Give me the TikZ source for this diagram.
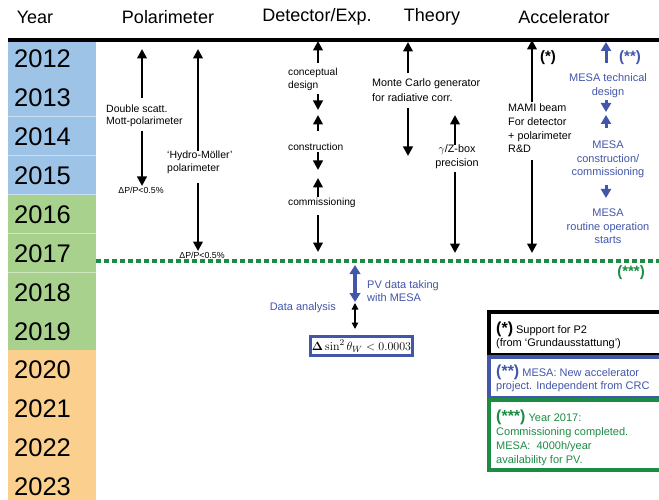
\documentclass[tikz,border=0pt]{standalone}
\usepackage[no-math]{fontspec}
\setmainfont{Liberation Sans}
\usetikzlibrary{arrows.meta}
\definecolor{cblue}{HTML}{9DC3E6}
\definecolor{cgreen}{HTML}{A9D18E}
\definecolor{corange}{HTML}{FBD08E}
\definecolor{mblue}{RGB}{66,86,170}
\definecolor{dgreen}{RGB}{28,140,68}
\begin{document}
\begin{tikzpicture}[x=1pt,y=-1pt,
  arr/.style={line width=2.8pt,-{Triangle[width=9.5pt,length=9.5pt]}},
  barr/.style={line width=3pt,draw=mblue,-{Triangle[width=10pt,length=9pt]}},
  hdr/.style={font=\fontsize{18}{18}\selectfont,inner sep=0pt},
  yr/.style={font=\fontsize{25.5}{25.5}\selectfont,inner sep=0pt,anchor=west},
  t/.style={font=\fontsize{10.8}{13.6}\selectfont,inner sep=0pt,align=left},
  td/.style={font=\fontsize{10.2}{13}\selectfont,inner sep=0pt,align=left,anchor=west},
  tb/.style={font=\fontsize{11}{13.5}\selectfont,inner sep=0pt,align=center,text=mblue},
  tiny/.style={font=\fontsize{8.8}{9}\selectfont,inner sep=0pt},
  stars/.style={font=\fontsize{15}{15}\selectfont\bfseries,inner sep=0pt},
  leg/.style={font=\fontsize{11}{13}\selectfont,inner sep=0pt,anchor=west}]
\useasboundingbox (0,0) rectangle (659,500);
\clip (0,0) rectangle (659,500);
\fill[white] (0,0) rectangle (659,500);
% year column
\foreach \i/\yy/\c in {0/2012/cblue,1/2013/cblue,2/2014/cblue,3/2015/cblue,
  4/2016/cgreen,5/2017/cgreen,6/2018/cgreen,7/2019/cgreen,
  8/2020/corange,9/2021/corange,10/2022/corange,11/2023/corange}{
  \fill[\c] (8,{39.1+38.9*\i}) rectangle (96,{39.1+38.9*(\i+1)});
  \draw[white,opacity=0.45,line width=0.8pt] (8,{39.1+38.9*(\i+1)}) -- (96,{39.1+38.9*(\i+1)});
  \node[yr] (y\yy) at (14,{59+38.9*\i}) {\yy};
}
\draw[line width=4.5pt] (8,40) -- (659,40);
% headers
\node[hdr] (hyear) at (35,17) {Year};
\node[hdr] (hpol) at (168,17) {Polarimeter};
\node[hdr] (hdet) at (317,17) {Detector/Exp.};
\node[hdr] (hth) at (432,17) {Theory};
\node[hdr] (hacc) at (564,17) {Accelerator};
% green dashed line
\draw[dgreen,line width=4pt,dash pattern=on 5pt off 3pt] (96,261) -- (659,261);
% polarimeter 1
\node[t,anchor=west,font=\fontsize{10.5}{12.5}\selectfont] (mott) at (106,116) {Double scatt.\\Mott-polarimeter};
\node[tiny] (dp1) at (141,190) {ΔP/P<0.5\%};
\coordinate (p1a) at (142,49); \coordinate (p1b) at (142,98);
\coordinate (p1c) at (142,131); \coordinate (p1d) at (142,186);
\draw[arr] (p1b) -- (p1a); \draw[arr] (p1c) -- (p1d);
% polarimeter 2
\node[t,anchor=west,font=\fontsize{10.5}{13}\selectfont] (hm) at (167,162.5) {‘Hydro-Möller’\\polarimeter};
\node[tiny] (dp2) at (202,255) {ΔP/P<0.5\%};
\coordinate (p2a) at (198,49); \coordinate (p2b) at (198,151);
\coordinate (p2c) at (198,183); \coordinate (p2d) at (198,251);
\draw[arr] (p2b) -- (p2a); \draw[arr] (p2c) -- (p2d);
% detector
\node[td] (concept) at (288,79.5) {conceptual\\design};
\node[td] (constr) at (288,147) {construction};
\node[td] (commis) at (288,203) {commissioning};
\coordinate (d0) at (318,41); \coordinate (d1) at (318,63);
\coordinate (d2) at (318,94); \coordinate (d3) at (318,110);
\coordinate (d4) at (318,131); \coordinate (d5) at (318,115);
\coordinate (d6) at (318,152); \coordinate (d7) at (318,170);
\coordinate (d8) at (318,197); \coordinate (d9) at (318,178);
\coordinate (d10) at (318,215); \coordinate (d11) at (318,252);
\draw[arr] (d1) -- (d0); \draw[arr] (d2) -- (d3); \draw[arr] (d4) -- (d5);
\draw[arr] (d6) -- (d7); \draw[arr] (d8) -- (d9); \draw[arr] (d10) -- (d11);
% theory
\node[t,anchor=west,font=\fontsize{10.8}{15}\selectfont] (mc) at (372,90.5) {Monte Carlo generator\\for radiative corr.};
\coordinate (m0) at (408,42); \coordinate (m1) at (408,73);
\coordinate (m2) at (408,108); \coordinate (m3) at (408,156);
\draw[arr] (m1) -- (m0); \draw[arr] (m2) -- (m3);
\node[t,align=center,font=\fontsize{10.8}{14}\selectfont] (gz) at (457,157) {$\gamma$/Z-box\\precision};
\coordinate (g0) at (455,115); \coordinate (g1) at (455,145);
\coordinate (g2) at (455,172); \coordinate (g3) at (455,253);
\draw[arr] (g1) -- (g0); \draw[arr] (g2) -- (g3);
% accelerator MAMI
\node[t,anchor=west] (mami) at (508,128.5) {MAMI beam\\For detector\\+ polarimeter\\R\&D};
\coordinate (a0) at (532,40); \coordinate (a1) at (532,102);
\coordinate (a2) at (532,160); \coordinate (a3) at (532,253);
\draw[arr] (a1) -- (a0); \draw[arr] (a2) -- (a3);
\node[stars] (s1) at (548,58) {(*)};
% MESA
\node[tb] (mtd) at (608,85.5) {MESA technical\\design};
\node[tb] (mcc) at (608,159.5) {MESA\\construction/\\commissioning};
\node[tb] (mro) at (608,226.5) {MESA\\routine operation\\starts};
\coordinate (b0) at (606,42); \coordinate (b1) at (606,63);
\coordinate (b2) at (606,100); \coordinate (b3) at (606,112);
\coordinate (b4) at (606,128); \coordinate (b5) at (606,115);
\coordinate (b6) at (606,185); \coordinate (b7) at (606,198);
\draw[barr] (b1) -- (b0); \draw[barr] (b2) -- (b3);
\draw[barr] (b4) -- (b5); \draw[barr] (b6) -- (b7);
\node[stars,text=mblue] (s2) at (630,58) {(**)};
\node[stars,text=dgreen] (s3) at (631,273) {(***)};
% PV data taking
\coordinate (pv0) at (355,265); \coordinate (pv1) at (355,302);
\draw[line width=3.2pt,draw=mblue,{Triangle[width=10.5pt,length=9pt]}-{Triangle[width=10.5pt,length=9pt]}] (pv0) -- (pv1);
\node[tb,anchor=west,align=left] (pv) at (367,291) {PV data taking\\with MESA};
\node[tb,anchor=east] (da) at (336,308) {Data analysis};
\coordinate (da0) at (355,303); \coordinate (da1) at (355,329);
\draw[line width=1.3pt,{Triangle[width=6.5pt,length=6.5pt]}-{Triangle[width=6.5pt,length=6.5pt]}] (da0) -- (da1);
\node[draw=mblue,line width=3pt,fill=white,minimum width=91pt,minimum height=19pt,inner sep=1pt,font=\fontsize{12.5}{13}\selectfont] (sw) at (361.5,346) {$\mathbf{\Delta}\sin^2\theta_W \mathrel{<} 0.0003$};
% legend
\draw[line width=3.5pt] (489,312) rectangle (668,355);
\draw[line width=3.5pt,draw=mblue] (489,357) rectangle (668,398);
\draw[line width=3.5pt,draw=dgreen] (489,400) rectangle (668,470);
\node[leg] (l1) at (496,329) {{\fontsize{16}{16}\selectfont\bfseries(*)} Support for P2};
\node[leg] (l2) at (496,344) {(from ‘Grundausstattung’)};
\node[leg,text=mblue] (l3) at (496,372) {{\fontsize{16}{16}\selectfont\bfseries(**)} MESA: New accelerator};
\node[leg,text=mblue] (l4) at (496,387) {project. Independent from CRC};
\node[leg,text=dgreen] (l5) at (496,417) {{\fontsize{16}{16}\selectfont\bfseries(***)} Year 2017:};
\node[leg,text=dgreen] (l6) at (496,433) {Commissioning completed.};
\node[leg,text=dgreen] (l7) at (496,447) {MESA:\ \ 4000h/year};
\node[leg,text=dgreen] (l8) at (496,461) {availability for PV.};
\end{tikzpicture}
\end{document}
